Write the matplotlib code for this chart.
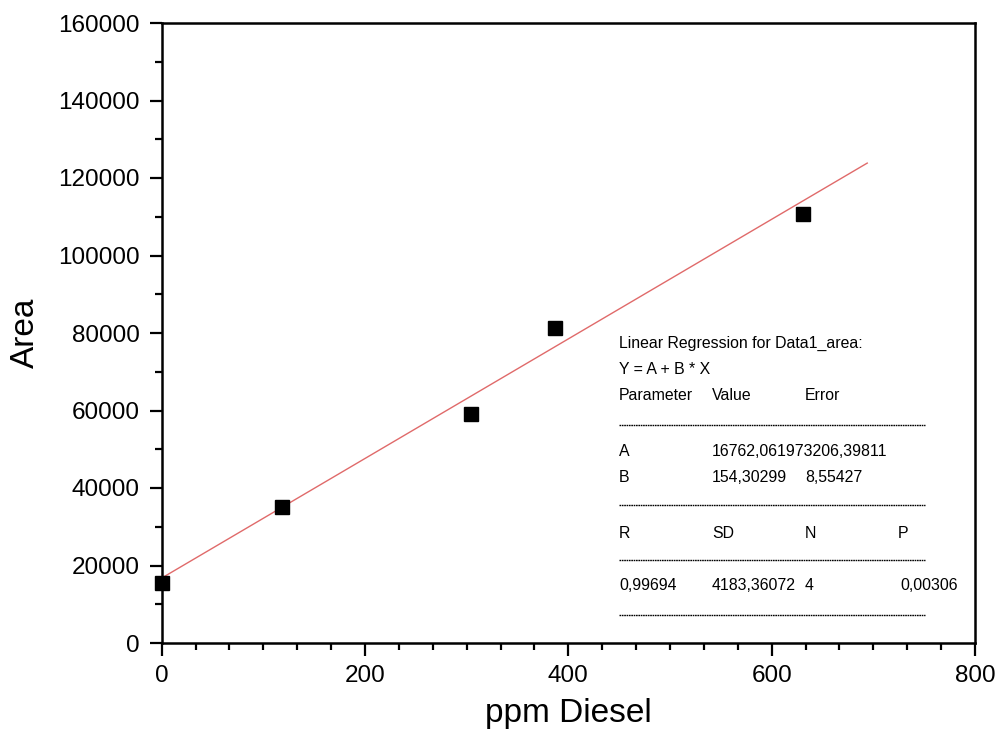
import matplotlib
matplotlib.use("Agg")
import matplotlib.pyplot as plt
import numpy as np
from matplotlib.ticker import MultipleLocator
from matplotlib.lines import Line2D

plt.rcParams['font.family'] = ['Liberation Sans', 'DejaVu Sans']

# data
ppm = [0, 118, 304, 387, 631]
area = [15400, 35000, 59100, 81300, 110800]

# regression result (as printed in the box)
A = 16762.06197
B = 154.30299
fit_x = [0, 694]

# the A row is printed without a gap between value and error in the original
box_rows = [
    ["Linear Regression for Data1_area:"],
    ["Y = A + B * X"],
    ["Parameter", "Value", "Error"],
    None,
    ["A", "16762,06197" + "3206,39811"],
    ["B", "154,30299", "8,55427"],
    None,
    ["R", "SD", "N", "P"],
    None,
    ["0,99694", "4183,36072", "4", "0,00306"],
    None,
]

W, H = 1000, 740
fig = plt.figure(figsize=(10, 7.4), dpi=100)
ax = fig.add_axes([161.7 / W, 1 - 643 / H, (975 - 161.7) / W, (643 - 23) / H])

fy = A + B * np.array(fit_x)
ax.plot(fit_x, fy, color='#e06a6a', lw=1.0, zorder=2)
ax.plot(ppm, area, 's', color='black', markersize=10, zorder=3, clip_on=False)

ax.set_xlim(0, 800)
ax.set_ylim(0, 160000)
ax.xaxis.set_major_locator(MultipleLocator(200))
ax.xaxis.set_minor_locator(MultipleLocator(200 / 6))
ax.yaxis.set_major_locator(MultipleLocator(20000))
ax.yaxis.set_minor_locator(MultipleLocator(10000))
ax.tick_params(which='major', direction='out', length=9, width=1.6, labelsize=17.5, pad=7)
ax.tick_params(which='minor', direction='out', length=5, width=1.6)
for s in ax.spines.values():
    s.set_linewidth(1.8)

ax.set_xlabel("ppm Diesel", fontsize=24, labelpad=8)
ax.set_ylabel("Area", fontsize=24, labelpad=12)

# regression box text
cols = [619, 712, 805, 898]
ys = [343, 370, 396, 425, 452, 478, 505, 533, 560, 586, 615]
for row, y in zip(box_rows, ys):
    if row is None:
        fig.add_artist(Line2D([619 / W, 925 / W], [1 - y / H, 1 - y / H],
                              color='black', lw=1.0, ls=(0, (1.2, 0.5))))
        continue
    for i, t in enumerate(row):
        x = cols[i]
        if row[0] == "0,99694" and i == 3:
            x = 900
        fig.text(x / W, 1 - y / H, t, fontsize=11.4, va='center', ha='left')

fig.savefig("out.png", dpi=100)
